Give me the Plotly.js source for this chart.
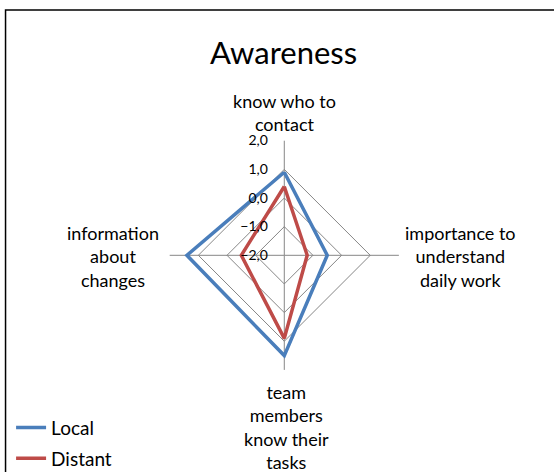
<!DOCTYPE html>
<html>
<head>
<meta charset="utf-8">
<script src="https://cdn.plot.ly/plotly-3.0.1.min.js"></script>
<style>
  body { margin: 0; }
  #chart { width: 554px; height: 472px; }
</style>
</head>
<body>
<div id="chart"></div>
<script>
var categories = ['know who to<br>contact', 'importance to<br>understand<br>daily work',
    'team<br>members<br>know their<br>tasks', 'information<br>about<br>changes'];
var localVal = [0.9, -0.5, 1.5, 1.4];
var distantVal = [0.4, -1.2, 0.9, -0.5];
var radialTicks = [-2, -1, 0, 1, 2];

function createRadarObject(r, name, color) {
    return {
        type: 'scatterpolar',
        r: r.concat([r[0]]),
        theta: categories.concat([categories[0]]),
        mode: 'lines',
        name: name,
        legendgroup: name,
        line: {
            width: 3.5,
            color: color
        }
    }
}

function categoryLabel(text, x, y) {
    return {
        text: text,
        xref: 'paper', yref: 'paper',
        x: x / 554, y: 1 - y / 472,
        xanchor: 'center', yanchor: 'middle',
        align: 'center',
        showarrow: false,
        font: {size: 18}
    }
}

var data = [
    createRadarObject(localVal, 'Local', 'rgb(74, 126, 187)'),
    createRadarObject(distantVal, 'Distant', 'rgb(190, 75, 72)')
];

var layout = {
    width: 554,
    height: 472,
    margin: {l: 0, r: 0, t: 0, b: 0, autoexpand: false},
    separators: ', ',
    font: {family: 'Lato, sans-serif', size: 15, color: '#000'},
    paper_bgcolor: '#fff',
    title: {
        text: 'Awareness',
        font: {size: 31},
        x: 0.512,
        xanchor: 'center',
        y: 0.888,
        yanchor: 'middle'
    },
    showlegend: true,
    legend: {
        x: 0.02,
        y: -0.012,
        xanchor: 'left',
        yanchor: 'bottom',
        font: {size: 19},
        tracegroupgap: 3,
        itemwidth: 30
    },
    polar: {
        domain: {x: [0.3063, 0.72], y: [0.2163, 0.7019]},
        gridshape: 'linear',
        bgcolor: 'rgba(0,0,0,0)',
        radialaxis: {
            range: [-2, 2],
            tickvals: radialTicks,
            tickformat: '.1f',
            angle: 90,
            tickangle: 90,
            side: 'counterclockwise',
            showline: false,
            gridcolor: '#868686',
            gridwidth: 1,
            ticks: 'outside',
            ticklen: 11,
            tickcolor: 'rgba(0,0,0,0)',
            tickfont: {size: 14}
        },
        angularaxis: {
            rotation: 90,
            direction: 'clockwise',
            showline: false,
            showticklabels: false,
            gridcolor: '#868686',
            ticks: ''
        }
    },
    annotations: [
        categoryLabel(categories[0], 284, 112),
        categoryLabel(categories[1], 461, 256),
        categoryLabel(categories[2], 286, 427),
        categoryLabel(categories[3], 113, 256)
    ],
    shapes: [{
        type: 'rect',
        xref: 'paper', yref: 'paper',
        x0: 0.01, x1: 1.05, y0: -0.05, y1: 0.979,
        line: {color: '#000', width: 1.5}
    }]
};

Plotly.newPlot('chart', data, layout, {displayModeBar: false});
</script>
</body>
</html>
